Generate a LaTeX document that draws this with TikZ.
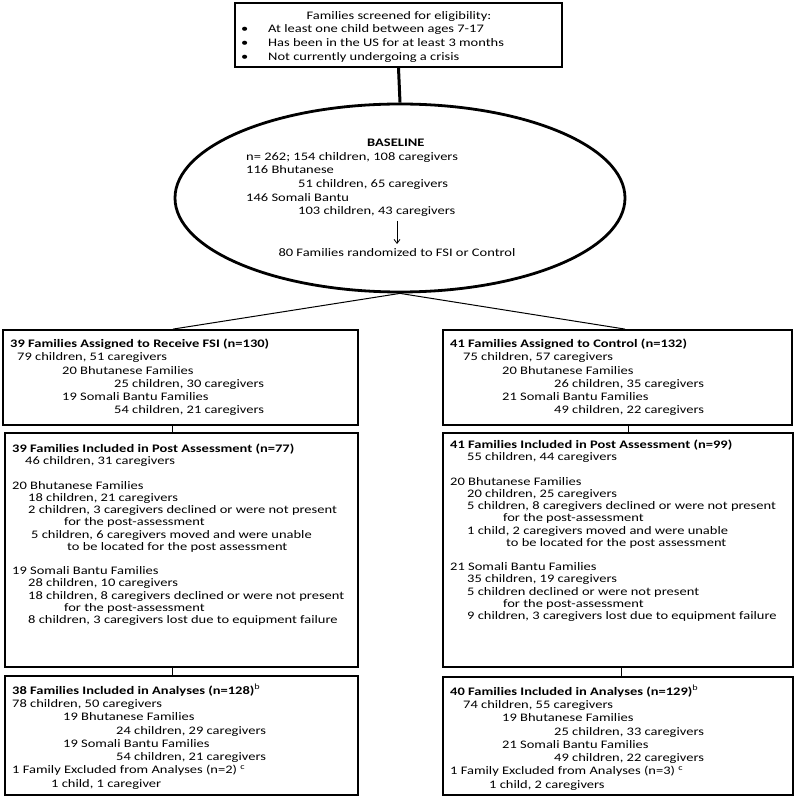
\documentclass[tikz,border=0pt]{standalone}
\usepackage{fontspec}
\setmainfont{Carlito}[FakeStretch=1.26]
\usetikzlibrary{shapes.geometric,arrows.meta}
\tikzset{
  box/.style={draw=black, line width=1.8pt, rectangle, inner sep=0pt},
  txt/.style={anchor=north west, inner sep=0pt, align=left, font=\fontsize{11.5}{12.2}\selectfont},
  link/.style={draw=black, line width=1pt}
}
\newcommand{\ind}[1]{\hspace*{#1pt}}

\begin{document}
\begin{tikzpicture}[x=1pt,y=-1pt]
    \useasboundingbox (0,0) rectangle (800,799);
    \fill[white] (0,0) rectangle (800,799);

    % screening
    \node[box, minimum width=327pt, minimum height=64pt] at (398.5,35) (screen) {};
    \node[txt, anchor=north] at (399,11) (screentitle) {Families screened for eligibility:};
    \node[txt, font=\fontsize{11.5}{14}\selectfont] at (241,24) (screenlist) {\makebox[27pt][l]{\textbullet}At least one child between ages 7-17\\
        \makebox[27pt][l]{\textbullet}Has been in the US for at least 3 months\\
        \makebox[27pt][l]{\textbullet}Not currently undergoing a crisis};

    % baseline
    \node[draw, ellipse, line width=2.8pt, minimum width=450pt, minimum height=188pt, inner sep=0pt] at (400,198) (base) {};
    \node[txt, font=\fontsize{11.5}{13.6}\selectfont] at (246,139) (baselist) {\ind{121}\textbf{BASELINE}\\
        n= 262; 154 children, 108 caregivers\\
        116 Bhutanese\\
        \ind{52}51 children, 65 caregivers\\
        146 Somali Bantu\\
        \ind{52}103 children, 43 caregivers};
    \node[txt, anchor=north] at (397,248) (rand) {80 Families randomized to FSI or Control};
    \draw[-{Straight Barb[length=4pt,width=6pt]}, line width=0.8pt, shorten <=4pt, shorten >=4pt] (rand.north |- baselist.south) -- (rand.north);

    % assigned
    \node[box, minimum width=355pt, minimum height=95pt] at (180.5,377.5) (fsi) {};
    \node[txt, font=\fontsize{11.5}{13.2}\selectfont] at (10,339) (fsitext) {\textbf{39 Families Assigned to Receive FSI (n=130)}\\
        \ind{7}79 children, 51 caregivers\\
        \ind{52}20 Bhutanese Families\\
        \ind{104}25 children, 30 caregivers\\
        \ind{52}19 Somali Bantu Families\\
        \ind{104}54 children, 21 caregivers};
    \node[box, minimum width=349pt, minimum height=95pt] at (617.5,377.5) (ctrl) {};
    \node[txt, font=\fontsize{11.5}{13.2}\selectfont] at (450,339) (ctrltext) {\textbf{41 Families Assigned to Control (n=132)}\\
        \ind{13}75 children, 57 caregivers\\
        \ind{52}20 Bhutanese Families\\
        \ind{104}26 children, 35 caregivers\\
        \ind{52}21 Somali Bantu Families\\
        \ind{104}49 children, 22 caregivers};

    % post assessment
    \node[box, minimum width=353pt, minimum height=234pt] at (181.5,550) (fsipost) {};
    \node[txt] at (12,444) (fsiposttext) {\textbf{39 Families Included in Post Assessment (n=77)}\\
        \ind{13}46 children, 31 caregivers\\
        ~\\
        20 Bhutanese Families\\
        \ind{16}18 children, 21 caregivers\\
        \ind{16}2 children, 3 caregivers declined or were not present\\
        \ind{52}for the post-assessment\\
        \ind{19}5 children, 6 caregivers moved and were unable\\
        \ind{55}to be located for the post assessment\\
        ~\\
        19 Somali Bantu Families\\
        \ind{16}28 children, 10 caregivers\\
        \ind{16}18 children, 8 caregivers declined or were not present\\
        \ind{52}for the post-assessment\\
        \ind{16}8 children, 3 caregivers lost due to equipment failure};
    \node[box, minimum width=350pt, minimum height=234pt] at (618,550) (ctrlpost) {};
    \node[txt] at (450,440) (ctrlposttext) {\textbf{41 Families Included in Post Assessment (n=99)}\\
        \ind{17}55 children, 44 caregivers\\
        ~\\
        20 Bhutanese Families\\
        \ind{17}20 children, 25 caregivers\\
        \ind{17}5 children, 8 caregivers declined or were not present\\
        \ind{53}for the post-assessment\\
        \ind{17}1 child, 2 caregivers moved and were unable\\
        \ind{56}to be located for the post assessment\\
        ~\\
        21 Somali Bantu Families\\
        \ind{17}35 children, 19 caregivers\\
        \ind{17}5 children declined or were not present\\
        \ind{53}for the post-assessment\\
        \ind{17}9 children, 3 caregivers lost due to equipment failure};

    % analyses
    \node[box, minimum width=353pt, minimum height=119pt] at (181.5,735.5) (fsian) {};
    \node[txt, font=\fontsize{11.5}{13.3}\selectfont] at (12,684) (fsiantext) {\textbf{38 Families Included in Analyses (n=128)}\textsuperscript{b}\\
        78 children, 50 caregivers\\
        \ind{51}19 Bhutanese Families\\
        \ind{104}24 children, 29 caregivers\\
        \ind{51}19 Somali Bantu Families\\
        \ind{104}54 children, 21 caregivers\\
        1 Family Excluded from Analyses (n=2) \textsuperscript{c}\\
        \ind{39}1 child, 1 caregiver};
    \node[box, minimum width=350pt, minimum height=118pt] at (618,736) (ctrlan) {};
    \node[txt, font=\fontsize{11.5}{13.3}\selectfont] at (450,685) (ctrlantext) {\textbf{40 Families Included in Analyses (n=129)}\textsuperscript{b}\\
        \ind{13}74 children, 55 caregivers\\
        \ind{52}19 Bhutanese Families\\
        \ind{104}25 children, 33 caregivers\\
        \ind{52}21 Somali Bantu Families\\
        \ind{104}49 children, 22 caregivers\\
        1 Family Excluded from Analyses (n=3) \textsuperscript{c}\\
        \ind{39}1 child, 2 caregivers};

    \draw[line width=3pt] (screen.south) -- (base.north);
    \draw[link] (base.south) -- ([xshift=-7.5pt]fsi.north);
    \draw[link] (base.south) -- ([xshift=7.5pt]ctrl.north);
    \draw[link] ([xshift=-8.5pt]fsi.south) -- ([xshift=-8.5pt]fsi.south |- fsipost.north);
    \draw[link] ([xshift=10.5pt]ctrl.south) -- ([xshift=10.5pt]ctrl.south |- ctrlpost.north);
    \draw[link] ([xshift=-9.5pt]fsipost.south) -- ([xshift=-9.5pt]fsipost.south |- fsian.north);
    \draw[link] ([xshift=3pt]ctrlpost.south) -- ([xshift=3pt]ctrlpost.south |- ctrlan.north);

\end{tikzpicture}
\end{document}
